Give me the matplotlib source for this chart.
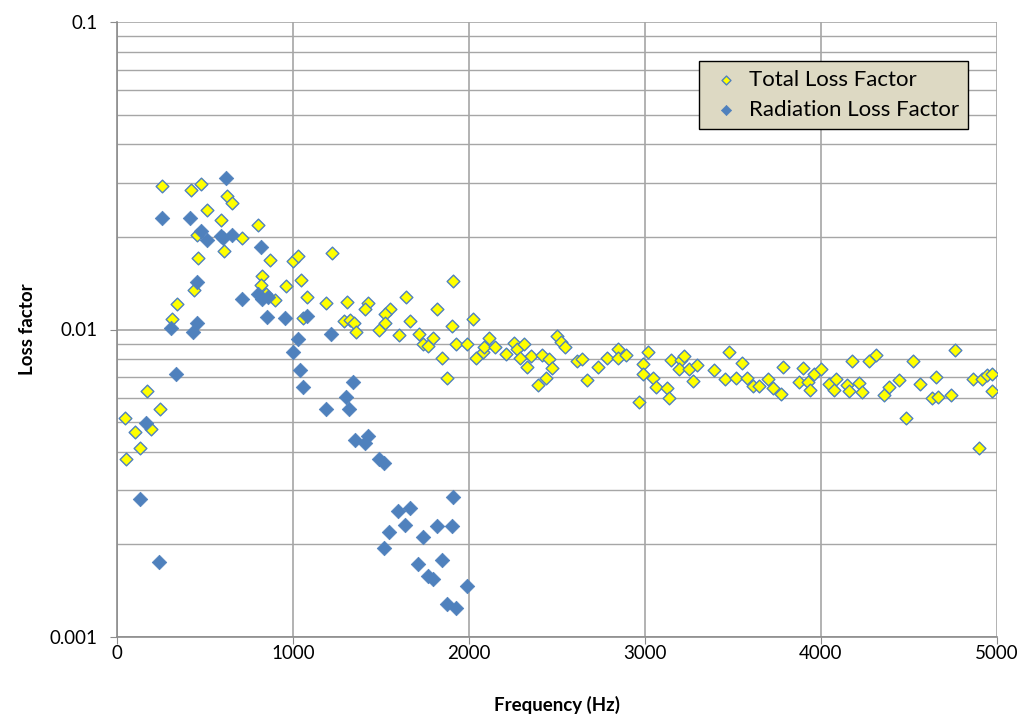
import matplotlib
matplotlib.use("Agg")
import matplotlib.pyplot as plt
from matplotlib.ticker import FixedLocator, LogLocator, NullFormatter

# Total loss factor (yellow diamonds)
total_freq = [45, 51, 102, 131, 170, 193, 244, 256, 313, 341, 420, 437, 460, 477,
              455, 511, 591, 608, 625, 653, 710, 801, 824, 818, 847, 869, 898, 960,
              1000, 1028, 1045, 1079, 1057, 1188, 1222, 1290, 1307, 1324, 1347, 1358,
              1426, 1409, 1551, 1523, 1523, 1489, 1642, 1665, 1602, 1716, 1739, 1767,
              1796, 1818, 1847, 1875, 1909, 1903, 1926, 1989, 2023, 2040, 2080, 2085,
              2114, 2148, 2210, 2256, 2273, 2290, 2313, 2330, 2352, 2392, 2415, 2438,
              2455, 2472, 2500, 2523, 2546, 2614, 2642, 2671, 2733, 2784, 2847, 2847,
              2892, 2966, 2989, 2989, 3017, 3046, 3063, 3125, 3136, 3148, 3205, 3222,
              3193, 3250, 3296, 3273, 3392, 3477, 3455, 3517, 3551, 3580, 3614, 3648,
              3699, 3727, 3773, 3784, 3898, 3875, 3926, 3938, 3960, 4000, 4046, 4074,
              4085, 4148, 4159, 4176, 4216, 4233, 4273, 4313, 4358, 4386, 4443, 4483,
              4523, 4563, 4654, 4631, 4665, 4739, 4762, 4864, 4915, 4943, 4972, 4972,
              4898]
total_loss = [0.00514, 0.00378, 0.00463, 0.00413, 0.00629, 0.00475, 0.00550, 0.0292,
              0.01078, 0.01206, 0.0285, 0.01349, 0.01714, 0.0298, 0.02036, 0.02456,
              0.02262, 0.01806, 0.0271, 0.0257, 0.0199, 0.02195, 0.01498, 0.0140,
              0.01309, 0.01677, 0.01243, 0.0138, 0.01665, 0.0174, 0.01454, 0.01271,
              0.01086, 0.01215, 0.01779, 0.01062, 0.01233, 0.0107, 0.01046, 0.00978,
              0.01224, 0.0117, 0.0117, 0.01119, 0.01046, 0.00993, 0.01271, 0.01062,
              0.00963, 0.0097, 0.00894, 0.00887, 0.00935, 0.0117, 0.0081, 0.00698,
              0.01443, 0.01023, 0.0090, 0.0090, 0.01078, 0.0081, 0.00842, 0.0088,
              0.0094, 0.0088, 0.00835, 0.00907, 0.00861, 0.0081, 0.00894, 0.00758,
              0.00823, 0.00658, 0.00829, 0.00698, 0.00799, 0.00752, 0.00949, 0.00914,
              0.0088, 0.00787, 0.00799, 0.00683, 0.00758, 0.0081, 0.00867, 0.0081,
              0.00829, 0.00579, 0.0077, 0.00719, 0.00842, 0.00698, 0.00648, 0.00643,
              0.0060, 0.00793, 0.00793, 0.00823, 0.00746, 0.00746, 0.00764, 0.00678,
              0.00741, 0.00848, 0.00688, 0.00693, 0.00781, 0.00698, 0.00653, 0.00653,
              0.00688, 0.00643, 0.00615, 0.00758, 0.00752, 0.00673, 0.00673, 0.00638,
              0.00714, 0.00746, 0.00663, 0.00638, 0.00688, 0.00658, 0.00629, 0.00787,
              0.00668, 0.00624, 0.00787, 0.00829, 0.00611, 0.00648, 0.00683, 0.00514,
              0.00787, 0.00663, 0.00703, 0.0060, 0.00605, 0.00611, 0.00855, 0.00688,
              0.00688, 0.00709, 0.00719, 0.00629, 0.00413]

# Radiation loss factor (blue diamonds)
rad_freq = [131, 165, 239, 256, 307, 335, 415, 432, 455, 455, 477, 511, 591, 602,
            619, 653, 710, 801, 824, 858, 818, 852, 955, 1028, 1000, 1040, 1057,
            1079, 1216, 1188, 1318, 1341, 1301, 1352, 1426, 1409, 1489, 1517, 1597,
            1665, 1546, 1636, 1818, 1903, 1909, 1739, 1517, 1710, 1847, 1767, 1796,
            1989, 1875, 1926]
rad_loss = [0.00282, 0.00495, 0.00175, 0.0231, 0.01015, 0.00719, 0.0231, 0.00978,
            0.01046, 0.01432, 0.02085, 0.01961, 0.02021, 0.0199, 0.031, 0.02036,
            0.01252, 0.01309, 0.01261, 0.0128, 0.01861, 0.01102, 0.01086, 0.00928,
            0.00848, 0.00741, 0.00648, 0.0111, 0.0097, 0.00553, 0.00553, 0.00673,
            0.00605, 0.00436, 0.00449, 0.00426, 0.00378, 0.00367, 0.00256, 0.00262,
            0.0022, 0.00232, 0.0023, 0.0023, 0.00286, 0.00212, 0.00195, 0.00173,
            0.00178, 0.00158, 0.00154, 0.00146, 0.00128, 0.00124]

x_ticks = [0, 1000, 2000, 3000, 4000, 5000]
y_ticks = [0.001, 0.01, 0.1]
y_tick_labels = ["0.001", "0.01", "0.1"]

plt.rcParams['font.family'] = ['Lato', 'DejaVu Sans']

fig = plt.figure(figsize=(10.24, 7.22), dpi=100)
ax = fig.add_axes([117 / 1024, 1 - 637 / 722, 880 / 1024, 615 / 722])

grid_col = "#a6a6a6"
ax.set_yscale("log")
ax.set_xlim(0, 5000)
ax.set_ylim(0.001, 0.1)

ax.xaxis.set_major_locator(FixedLocator(x_ticks))
ax.yaxis.set_major_locator(FixedLocator(y_ticks))
ax.set_yticklabels(y_tick_labels)
ax.yaxis.set_minor_locator(LogLocator(base=10, subs=range(2, 10)))
ax.yaxis.set_minor_formatter(NullFormatter())

ax.grid(True, which="major", axis="both", color=grid_col, linewidth=1.2, zorder=0)
ax.grid(True, which="minor", axis="y", color=grid_col, linewidth=1.0, zorder=0)
ax.set_axisbelow(True)

for side in ["left", "bottom"]:
    ax.spines[side].set_color("#8c8c8c")
    ax.spines[side].set_linewidth(1.2)
ax.spines["top"].set_visible(False)
ax.spines["right"].set_visible(False)

ax.tick_params(axis="both", which="major", length=5, color="#8c8c8c", labelsize=13.5)
ax.tick_params(axis="x", which="major", pad=1)
ax.tick_params(axis="y", which="major", pad=9)
ax.tick_params(axis="y", which="minor", length=0)

ax.scatter(total_freq, total_loss, marker="D", s=42, facecolor="#ffff00",
           edgecolor="#4f81bd", linewidth=1.0, zorder=3, label="Total Loss Factor")
ax.scatter(rad_freq, rad_loss, marker="D", s=55, facecolor="#4f81bd",
           edgecolor="#4f81bd", linewidth=0.5, zorder=4, label="Radiation Loss Factor")

ax.set_xlabel("Frequency (Hz)", fontsize=13.5, fontweight="bold", labelpad=24)
ax.set_ylabel("Loss factor", fontsize=13.5, fontweight="bold", labelpad=10)

leg = ax.legend(loc="upper right", bbox_to_anchor=(968 / 1024, 1 - 61 / 722),
                bbox_transform=fig.transFigure, fontsize=16, frameon=True,
                fancybox=False, borderpad=0.4, labelspacing=0.45,
                handlelength=1.6, handletextpad=0.25, borderaxespad=0,
                markerscale=0.7, scatterpoints=1)
leg.get_frame().set_facecolor("#ddd9c3")
leg.get_frame().set_edgecolor("black")
leg.get_frame().set_linewidth(1.0)
leg.get_frame().set_alpha(1)

fig.savefig("out.png", dpi=100)
